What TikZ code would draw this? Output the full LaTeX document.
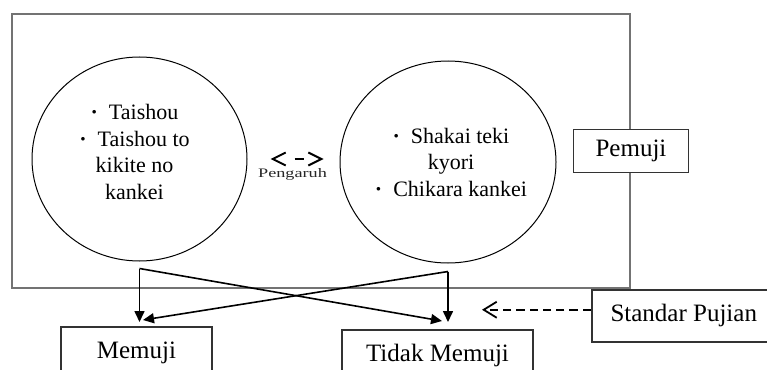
\documentclass[tikz,border=0pt]{standalone}
\usepackage{fontspec}
\setmainfont{Liberation Serif}
\usepackage{tikz}
\usetikzlibrary{shapes}
\usetikzlibrary{arrows.meta}

\begin{document}
\begin{tikzpicture}[x=1pt, y=-1pt, >={Triangle[length=11pt,width=10pt]},
  bubble/.style={draw, ellipse, line width=1pt, inner sep=0pt},
  items/.style={align=center, font=\fontsize{22}{26.5}\selectfont},
  box/.style={draw=black!80, line width=1.5pt, fill=white, inner sep=0pt, font=\fontsize{25}{30}\selectfont},
  flow/.style={->, line width=1.6pt},
  hint/.style={line width=1.8pt, dash pattern=on 8.3pt off 5pt, -{Straight Barb[length=13pt,width=16pt]}},
  mutual/.style={line width=2pt, dash pattern=on 0pt off 21pt on 9pt off 40pt, {Straight Barb[length=13pt,width=13pt]}-{Straight Barb[length=13pt,width=13pt]}}]
\useasboundingbox (0,0) rectangle (767,369);

\node[name=frame, draw=black!55, line width=2pt, minimum width=618, minimum height=274] at (321,151){};

\node[name=taishou, bubble, minimum width=215, minimum height=204] at (139.5,159){};
\node[name=taishou_text, items, at=(taishou.center), xshift=-5, yshift=7]{\textbf{·}\enspace Taishou\\ \textbf{·}\enspace Taishou to\\ kikite no\\ kankei};
\node[name=shakai, bubble, minimum width=216, minimum height=202] at (448,162){};
\node[name=shakai_text, items, at=(shakai.center), xshift=3]{\textbf{·}\enspace Shakai teki\\ kyori\\ \textbf{·}\enspace Chikara kankei};

\node[name=influence, font=\fontsize{13}{14}\selectfont, text=black!85] at (292.5,174){\scalebox{1.4}[1]{Pengaruh}};
\draw[mutual]([xshift=23]taishou.east) -- ++(53,0);

\node[name=pemuji, box, minimum width=115, minimum height=43, at=(frame.east)]{Pemuji};
\node[name=standar, box, minimum width=184, minimum height=52, anchor=north west] at (591,289){Standar Pujian};
\node[name=memuji, box, minimum width=151, minimum height=52, anchor=north] at (136.5,326){Memuji};
\node[name=tidak, box, minimum width=191, minimum height=52, anchor=north] at (437.5,329){Tidak Memuji};

\draw([yshift=-7]taishou.south) edge[flow]([xshift=3,yshift=4]memuji.north);
\draw([yshift=-7]taishou.south) edge[flow]([xshift=4.5,yshift=8]tidak.north);
\draw([yshift=-8]shakai.south) edge[flow]([xshift=10.5,yshift=7]tidak.north);
\draw([yshift=-8]shakai.south) edge[flow]([xshift=6.5,yshift=6]memuji.north);
\draw[hint]([yshift=6]standar.west) -- ++(-109,0);
\end{tikzpicture}
\end{document}
